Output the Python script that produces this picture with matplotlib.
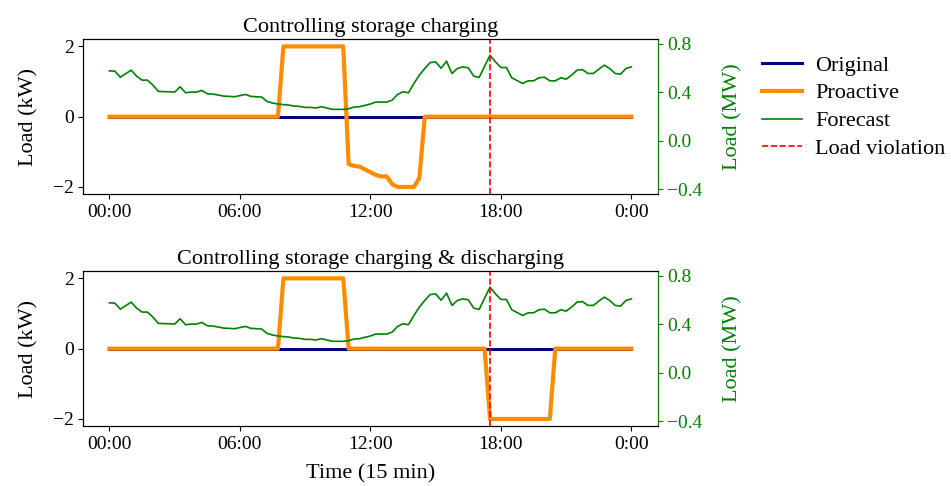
import matplotlib
matplotlib.use("Agg")
import matplotlib.pyplot as plt
from matplotlib.ticker import MultipleLocator
import numpy as np

plt.rcParams['font.family'] = ['Liberation Serif', 'DejaVu Serif']
plt.rcParams['font.size'] = 16
plt.rcParams['xtick.labelsize'] = 14
plt.rcParams['ytick.labelsize'] = 14

# 15-minute steps, 0 .. 96 (00:00 .. 0:00 next day)
steps = list(range(97))
tick_pos = [0, 24, 48, 72, 96]
tick_labels = ["00:00", "06:00", "12:00", "18:00", "0:00"]

# Forecast load (MW)
forecast = [0.575, 0.573, 0.523, 0.552, 0.581, 0.532, 0.499, 0.499, 0.458, 0.406,
            0.404, 0.403, 0.400, 0.444, 0.395, 0.400, 0.400, 0.414, 0.386, 0.384,
            0.376, 0.367, 0.365, 0.362, 0.371, 0.381, 0.365, 0.362, 0.359, 0.323,
            0.310, 0.302, 0.297, 0.293, 0.285, 0.282, 0.274, 0.274, 0.269, 0.280,
            0.269, 0.258, 0.258, 0.258, 0.263, 0.277, 0.280, 0.291, 0.302, 0.318,
            0.318, 0.318, 0.334, 0.381, 0.403, 0.395, 0.471, 0.540, 0.595, 0.644,
            0.649, 0.597, 0.655, 0.554, 0.595, 0.608, 0.600, 0.532, 0.521, 0.614,
            0.704, 0.649, 0.603, 0.603, 0.518, 0.495, 0.471, 0.493, 0.493, 0.518,
            0.523, 0.493, 0.493, 0.518, 0.507, 0.540, 0.581, 0.586, 0.554, 0.554,
            0.589, 0.622, 0.595, 0.554, 0.548, 0.595, 0.608]

# Original storage load (kW)
original = [0.0] * 97

# Proactive, charging control only (kW)
proactive_charge = ([0.0] * 32 + [2.0] * 12 +
                    [-1.35, -1.40, -1.42, -1.50, -1.58, -1.66, -1.70, -1.70,
                     -1.92, -2.0, -2.0, -2.0, -2.0, -1.75] + [0.0] * 39)

# Proactive, charging & discharging control (kW)
proactive_both = [0.0] * 32 + [2.0] * 12 + [0.0] * 26 + [-2.0] * 12 + [0.0] * 15

violation_step = 70

titles = ["Controlling storage charging", "Controlling storage charging & discharging"]
proactives = [proactive_charge, proactive_both]

fig, axes = plt.subplots(2, 1, figsize=(9.51, 4.86), dpi=100)
fig.subplots_adjust(left=0.0876, right=0.6914, top=0.919, bottom=0.1235, hspace=0.50)

handles = []
for i, ax in enumerate(axes):
    h1, = ax.plot(steps, original, color='navy', lw=2.2, label='Original')
    h2, = ax.plot(steps, proactives[i], color='darkorange', lw=3.0, label='Proactive')
    ax.set_ylabel('Load (kW)', labelpad=10)
    ax.set_title(titles[i], fontsize=16, pad=5)
    ax.set_xticks(tick_pos)
    ax.set_xticklabels(tick_labels)
    ax.set_ylim(-2.2, 2.2)
    ax.set_yticks([-2, 0, 2])
    ax2 = ax.twinx()
    h3, = ax2.plot(steps, forecast, color='green', lw=1.2, label='Forecast')
    h4 = ax2.axvline(violation_step, color='red', ls='--', lw=1.2, label='Load violation')
    ax2.set_ylim(-0.44, 0.835)
    ax2.yaxis.set_major_locator(MultipleLocator(0.4))
    ax2.set_ylabel('Load (MW)', color='green', labelpad=15)
    ax2.tick_params(axis='y', colors='green')
    ax2.spines['right'].set_color('green')
    handles = [h1, h2, h3, h4]

axes[1].set_xlabel('Time (15 min)', labelpad=8)

fig.legend(handles=handles, loc='upper left', bbox_to_anchor=(0.78, 0.928),
           frameon=False, fontsize=16, handlelength=1.8, handletextpad=0.6,
           labelspacing=0.33)

fig.savefig('out.png', dpi=100)
